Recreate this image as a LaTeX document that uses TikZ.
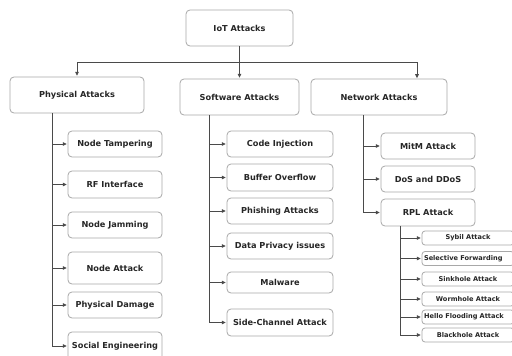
\documentclass[tikz,border=0pt]{standalone}
\usepackage{fontspec}
\setmainfont{DejaVu Sans}
\usetikzlibrary{arrows.meta}
\definecolor{boxline}{HTML}{A8A8A8}
\definecolor{conn}{HTML}{4A4A4A}
\definecolor{txt}{HTML}{262626}
\begin{document}
\begin{tikzpicture}[x=1pt,y=-1pt,
  box/.style={draw=boxline,line width=0.8pt,rounded corners=4pt,fill=white,
    inner sep=0pt,align=center,text=txt,font=\fontsize{8.2}{9}\selectfont\bfseries},
  subbox/.style={box,rounded corners=3pt,font=\fontsize{6.6}{7.5}\selectfont\bfseries},
  line/.style={draw=conn,line width=0.85pt},
  arr/.style={line,-{Triangle[length=4pt,width=3.6pt]},shorten >=0.8pt}]
\useasboundingbox (0,0) rectangle (512,356);
\fill[white] (0,0) rectangle (512,356);
% level 0 and 1
\node[box,minimum width=107pt,minimum height=36pt] (iot) at (239.5,28) {IoT Attacks};
\node[box,minimum width=134pt,minimum height=36pt] (phys) at (77,95) {Physical Attacks};
\node[box,minimum width=119pt,minimum height=36pt] (soft) at (239.5,97) {Software Attacks};
\node[box,minimum width=136pt,minimum height=36pt] (net) at (379,97) {Network Attacks};
% physical children
\node[box,minimum width=94pt,minimum height=26pt] (nt) at (115,144) {Node Tampering};
\node[box,minimum width=94pt,minimum height=27pt] (rf) at (115,184.5) {RF Interface};
\node[box,minimum width=94pt,minimum height=26pt] (nj) at (115,225) {Node Jamming};
\node[box,minimum width=94pt,minimum height=32pt] (na) at (115,268) {Node Attack};
\node[box,minimum width=94pt,minimum height=26pt] (pd) at (115,305) {Physical Damage};
\node[box,minimum width=94pt,minimum height=28pt] (se) at (115,346) {Social Engineering};
% software children
\node[box,minimum width=106pt,minimum height=26pt] (ci) at (280,144) {Code Injection};
\node[box,minimum width=106pt,minimum height=27pt] (bo) at (280,177.5) {Buffer Overflow};
\node[box,minimum width=106pt,minimum height=26pt] (pa) at (280,211) {Phishing Attacks};
\node[box,minimum width=106pt,minimum height=26pt] (dp) at (280,246) {Data Privacy issues};
\node[box,minimum width=106pt,minimum height=21pt] (mw) at (280,282.5) {Malware};
\node[box,minimum width=106pt,minimum height=27pt] (sc) at (280,322.5) {Side-Channel Attack};
% network children
\node[box,minimum width=94pt,minimum height=26pt] (mitm) at (428,146) {MitM Attack};
\node[box,minimum width=94pt,minimum height=26pt] (dos) at (428,179) {DoS and DDoS};
\node[box,minimum width=94pt,minimum height=27pt] (rpl) at (428,212.5) {RPL Attack};
% RPL children
\node[subbox,minimum width=92pt,minimum height=14pt] (sy) at (468,238) {Sybil Attack};
\node[subbox,minimum width=92pt,minimum height=14pt,text width=88pt,align=left] (sf) at (468,258.5) {Selective Forwarding};
\node[subbox,minimum width=92pt,minimum height=14pt] (sk) at (468,279) {Sinkhole Attack};
\node[subbox,minimum width=92pt,minimum height=14pt] (wh) at (468,299) {Wormhole Attack};
\node[subbox,minimum width=92pt,minimum height=14pt,text width=88pt,align=left] (hf) at (468,317) {Hello Flooding Attack};
\node[subbox,minimum width=92pt,minimum height=14pt] (bh) at (468,335) {Blackhole Attack};
% top bus
\coordinate (bus) at (239.5,62);
\coordinate (busl) at (77,62);
\coordinate (busr) at (417,62);
\coordinate (netin) at (417,79);
\draw[line] (iot.south) -- (bus);
\draw[line] (busl) -- (busr);
\draw[arr] (busl) -- (phys.north);
\draw[arr] (bus) -- (soft.north);
\draw[arr] (busr) -- (netin);
% physical trunk
\coordinate (pt) at (52,113);
\draw[arr] (pt) |- (se);
\foreach \c in {nt,rf,nj,na,pd} \draw[arr] (pt |- \c.west) -- (\c.west);
% software trunk
\coordinate (st) at (209,115);
\draw[arr] (st) |- (sc);
\foreach \c in {ci,bo,pa,dp,mw} \draw[arr] (st |- \c.west) -- (\c.west);
% network trunk
\coordinate (ntk) at (363,115);
\draw[arr] (ntk) |- (rpl);
\foreach \c in {mitm,dos} \draw[arr] (ntk |- \c.west) -- (\c.west);
% RPL trunk
\coordinate (rt) at (400,226);
\draw[arr] (rt) |- (bh);
\foreach \c in {sy,sf,sk,wh,hf} \draw[arr] (rt |- \c.west) -- (\c.west);
\end{tikzpicture}
\end{document}
